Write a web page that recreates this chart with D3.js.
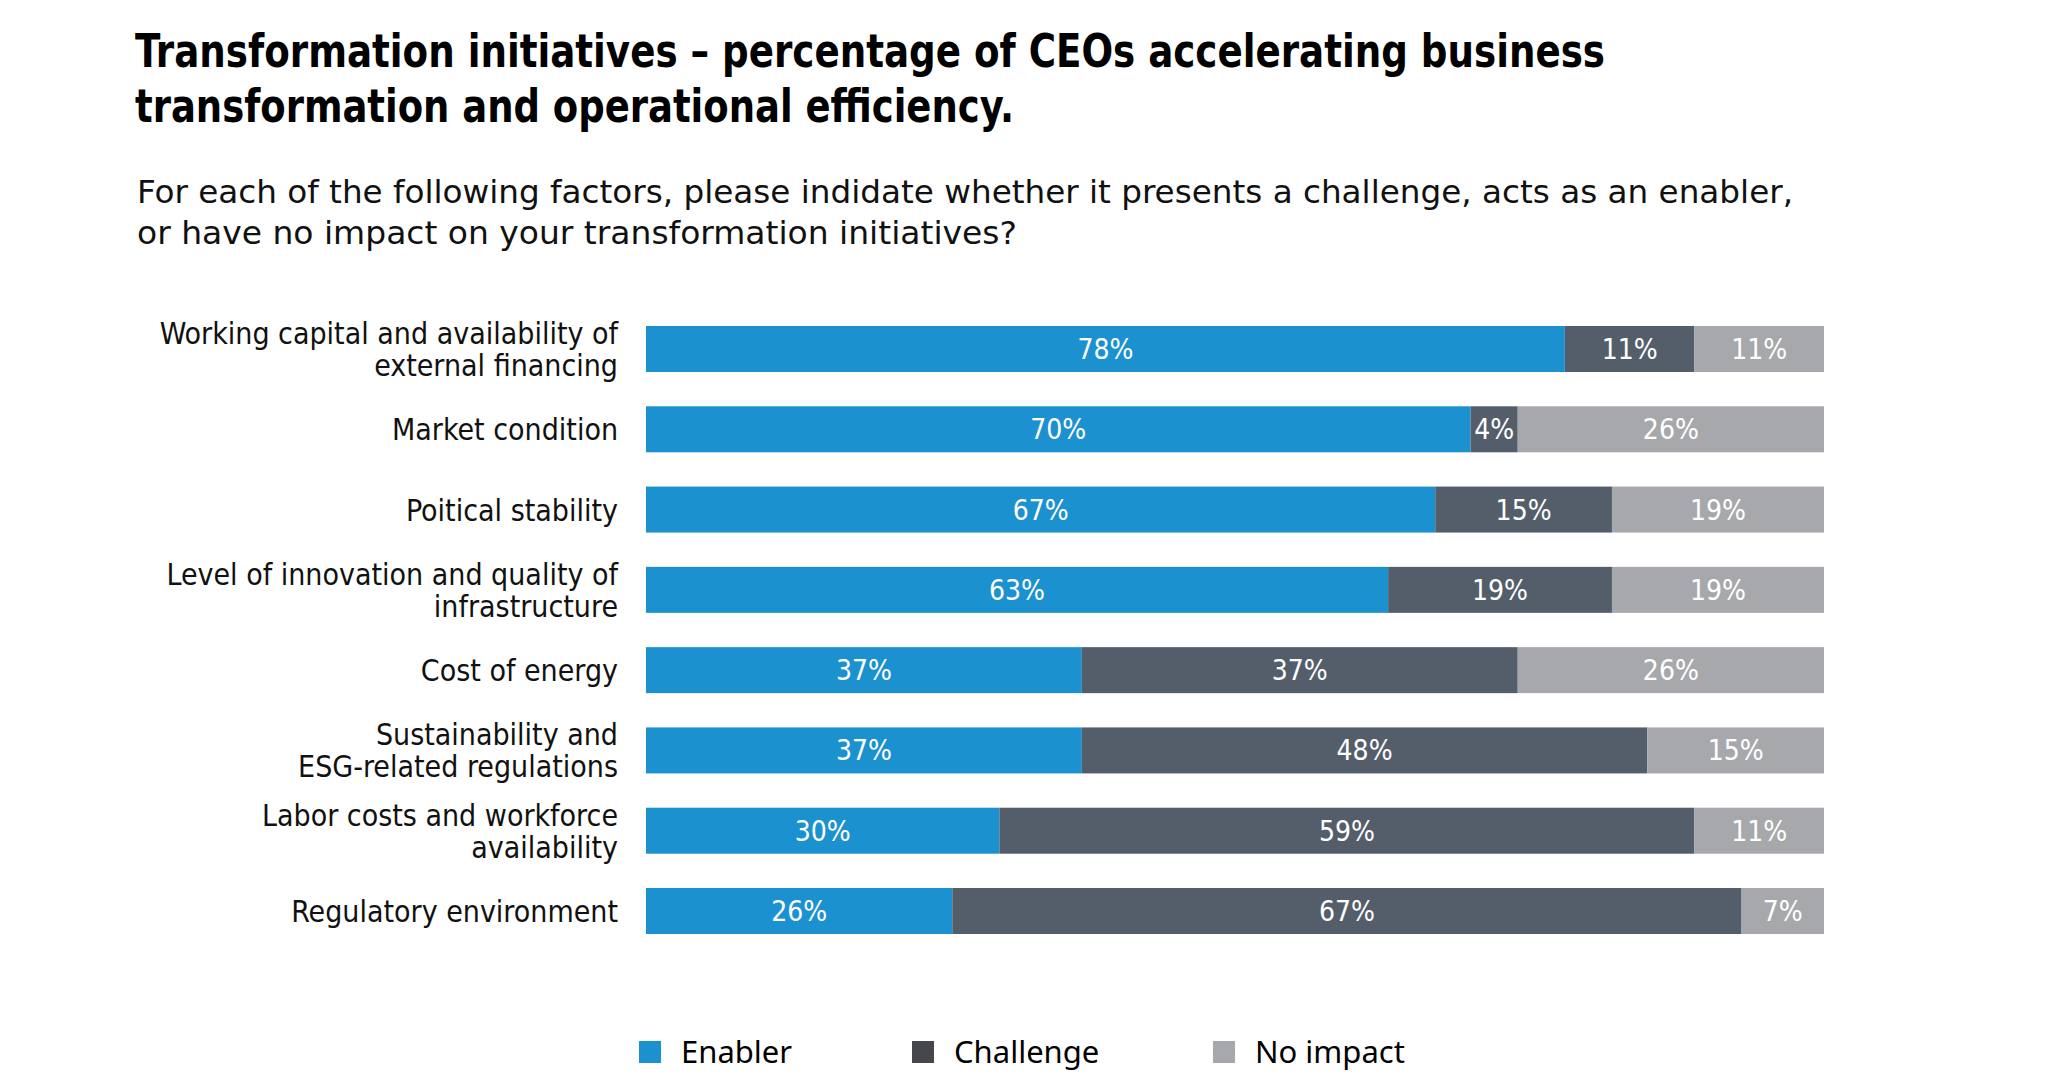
<!DOCTYPE html>
<html>
<head>
<meta charset="utf-8">
<script src="https://cdn.jsdelivr.net/npm/d3@7"></script>
<style>
  html, body { margin: 0; padding: 0; background: #ffffff; }
  svg { display: block; }
  .cond { font-family: "DejaVu Sans Condensed", "DejaVu Sans", sans-serif; font-stretch: condensed; }
</style>
</head>
<body>
<svg id="chart" width="2048" height="1089"></svg>
<script>
// ---------------- data ----------------
const titleLines = [
  "Transformation initiatives \u2013 percentage of CEOs accelerating business",
  "transformation and operational efficiency."
];
const subtitleLines = [
  "For each of the following factors, please indidate whether it presents a challenge, acts as an enabler,",
  "or have no impact on your transformation initiatives?"
];
const categories = [
  ["Working capital and availability of", "external financing"],
  ["Market condition"],
  ["Poitical stability"],
  ["Level of innovation and quality of", "infrastructure"],
  ["Cost of energy"],
  ["Sustainability and", "ESG-related regulations"],
  ["Labor costs and workforce", "availability"],
  ["Regulatory environment"]
];
const seriesNames = ["Enabler", "Challenge", "No impact"];
const enabler   = [78, 70, 67, 63, 37, 37, 30, 26];
const challenge = [11,  4, 15, 19, 37, 48, 59, 67];
const noImpact  = [11, 26, 19, 19, 26, 15, 11,  7];

// ---------------- layout ----------------
const barColors    = ["#1b91d0", "#545e6b", "#a7a8ab"];
const legendColors = ["#1b91d0", "#45474d", "#a7a8ab"];

const svg = d3.select("#chart");

const keys = categories.map(c => c.join(" "));
const table = keys.map((k, i) => ({
  key: k,
  lines: categories[i],
  [seriesNames[0]]: enabler[i],
  [seriesNames[1]]: challenge[i],
  [seriesNames[2]]: noImpact[i]
}));

const x = d3.scaleLinear().domain([0, 100]).range([646, 1824]).clamp(true);
const y = d3.scaleBand().domain(keys).range([326, 934]).paddingInner(0.427).paddingOuter(0);
const color = d3.scaleOrdinal().domain(seriesNames).range(barColors);

// Title
const titleWidths = [1470, 879];
svg.append("g").selectAll("text").data(titleLines).join("text")
  .attr("class", "cond")
  .attr("x", 135)
  .attr("y", (d, i) => 67 + i * 55)
  .attr("font-size", 46)
  .attr("font-weight", "bold")
  .attr("fill", "#000")
  .attr("textLength", (d, i) => titleWidths[i])
  .attr("lengthAdjust", "spacingAndGlyphs")
  .text(d => d);

// Subtitle
const subWidths = [1656, 880];
svg.append("g").selectAll("text").data(subtitleLines).join("text")
  .attr("class", "cond")
  .attr("x", 137)
  .attr("y", (d, i) => 203 + i * 41)
  .attr("font-size", 32)
  .attr("fill", "#111")
  .attr("textLength", (d, i) => subWidths[i])
  .attr("lengthAdjust", "spacingAndGlyphs")
  .text(d => d);

// Stacked bars
const stack = d3.stack().keys(seriesNames);
const stacked = stack(table);

const layers = svg.append("g").selectAll("g").data(stacked).join("g")
  .attr("fill", d => color(d.key));

layers.selectAll("rect").data(d => d).join("rect")
  .attr("x", d => x(d[0]))
  .attr("y", d => y(d.data.key))
  .attr("width", d => Math.max(0, x(d[1]) - x(d[0])))
  .attr("height", y.bandwidth());

// Value labels
const labelG = svg.append("g");
stacked.forEach(layer => {
  labelG.selectAll(null).data(layer).join("text")
    .attr("class", "cond")
    .attr("x", d => (x(d[0]) + x(d[1])) / 2)
    .attr("y", d => y(d.data.key) + y.bandwidth() / 2 + 10)
    .attr("text-anchor", "middle")
    .attr("font-size", 28)
    .attr("fill", "#ffffff")
    .text(d => d.data[layer.key] + "%");
});

// Category labels (left axis)
const catG = svg.append("g").selectAll("text").data(table).join("text")
  .attr("class", "cond")
  .attr("text-anchor", "end")
  .attr("font-size", 30)
  .attr("fill", "#111");
catG.each(function (d) {
  const t = d3.select(this);
  const cy = y(d.key) + y.bandwidth() / 2;
  const n = d.lines.length;
  const firstBase = n === 1 ? cy + 11 : cy - 5;
  d.lines.forEach((line, j) => {
    t.append("tspan").attr("x", 618).attr("y", firstBase + j * 32).text(line);
  });
});

// Legend
const legendX = [639, 912, 1213];
const legend = svg.append("g").selectAll("g").data(seriesNames).join("g")
  .attr("transform", (d, i) => `translate(${legendX[i]},1041)`);
legend.append("rect")
  .attr("width", 22).attr("height", 22)
  .attr("fill", (d, i) => legendColors[i]);
legend.append("text")
  .attr("x", 42)
  .attr("y", 22)
  .attr("font-family", "'Noto Sans', 'Open Sans', sans-serif")
  .attr("font-size", 31)
  .attr("fill", "#000")
  .text(d => d);
</script>
</body>
</html>
